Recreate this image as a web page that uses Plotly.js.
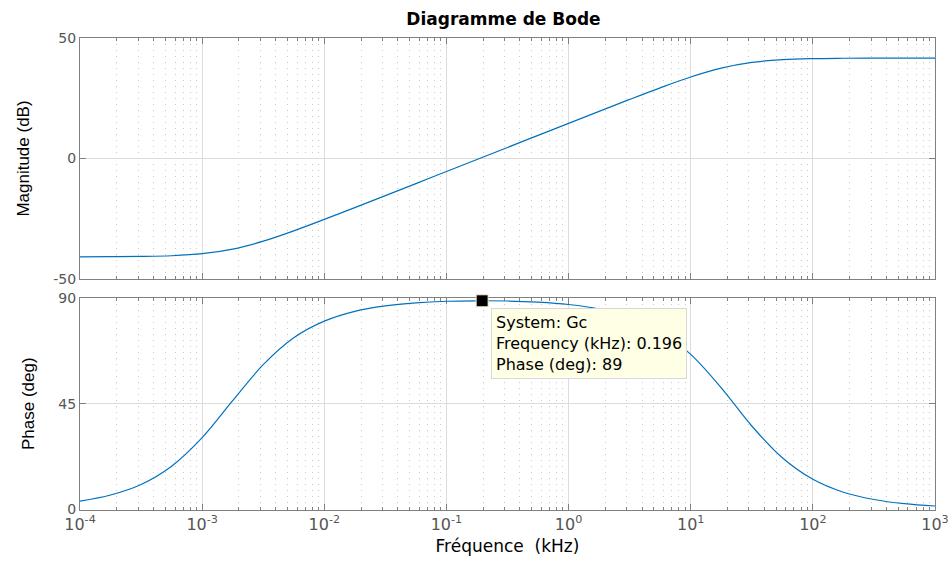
<!DOCTYPE html>
<html>
<head>
<meta charset="utf-8">
<script src="https://cdn.plot.ly/plotly-3.0.1.min.js"></script>
<style>html,body{margin:0;padding:0;background:#fff;}#chart{width:950px;height:563px;}</style>
</head>
<body>
<div id="chart"></div>
<script>
// Frequencies (kHz)
const freqKHz = [1e-4, 1.778e-4, 3.162e-4, 5.623e-4, 1e-3, 1.778e-3, 3.162e-3, 5.623e-3,
  1e-2, 1.778e-2, 3.162e-2, 5.623e-2, 1e-1, 1.778e-1, 3.162e-1, 5.623e-1,
  1, 1.778, 3.162, 5.623, 10, 17.78, 31.62, 56.23, 100, 177.8, 316.2, 562.3, 1000];
// Magnitude (dB)
const magnitudeDB = [-40.8, -40.75, -40.65, -40.35, -39.51, -37.59, -34.31, -30.03,
  -25.28, -20.37, -15.39, -10.40, -5.41, -0.41, 4.59, 9.59,
  14.58, 19.57, 24.51, 29.33, 33.82, 37.50, 39.88, 41.02, 41.46, 41.60, 41.65, 41.67, 41.67];
// Phase (deg)
const phaseDeg = [3.4, 6.0, 10.5, 18.3, 30.5, 46.3, 61.7, 73.2,
  80.3, 84.5, 86.8, 88.1, 88.8, 89.0, 88.9, 88.4,
  87.4, 85.5, 82.0, 76.0, 66.1, 51.8, 35.5, 21.9, 12.7, 7.2, 4.1, 2.3, 1.3];
// Data tip
const tipFreq = [0.196];
const tipPhase = [89];
const tipLines = ["System: Gc", "Frequency (kHz): 0.196", "Phase (deg): 89"];
// Tick labels
const xTickVals = [1e-4, 1e-3, 1e-2, 1e-1, 1, 10, 100, 1000];
const xTickText = ['10<sup>-4</sup>', '10<sup>-3</sup>', '10<sup>-2</sup>', '10<sup>-1</sup>',
  '10<sup>0</sup>', '10<sup>1</sup>', '10<sup>2</sup>', '10<sup>3</sup>'];
const magTicks = [-50, 0, 50];
const phaseTicks = [0, 45, 90];

// minor grid positions (2..9 within each decade)
const minorVals = [];
for (let d = -4; d < 3; d++) for (let k = 2; k <= 9; k++) minorVals.push(k * Math.pow(10, d));

const blue = '#0072BD';
const axisGray = '#808080';
const wideFont = 'DejaVu Sans, Verdana, sans-serif';
const tickFontY = {family: wideFont, size: 14, color: '#555555'};
const tickFontX = {family: wideFont, size: 16, color: '#555555'};

const traces = [
  {x: freqKHz, y: magnitudeDB, xaxis: 'x', yaxis: 'y', mode: 'lines',
   line: {color: blue, width: 1.2, shape: 'spline', smoothing: 1}, hoverinfo: 'skip'},
  {x: freqKHz, y: phaseDeg, xaxis: 'x2', yaxis: 'y2', mode: 'lines',
   line: {color: blue, width: 1.2, shape: 'spline', smoothing: 1}, hoverinfo: 'skip'},
  {x: tipFreq, y: tipPhase, xaxis: 'x2', yaxis: 'y2', mode: 'markers',
   marker: {symbol: 'square', size: 12, color: '#000000', line: {color: '#f2f2d0', width: 1}},
   hoverinfo: 'skip', cliponaxis: false}
];

function xAxis(anchor, showLabels, titleText, layer) {
  const a = {
    type: 'log', range: [-4, 3], anchor: anchor, layer: layer,
    tickmode: 'array', tickvals: xTickVals, ticktext: xTickText,
    showticklabels: showLabels, tickfont: tickFontX,
    ticks: 'inside', ticklen: 6, tickcolor: axisGray,
    showline: true, linecolor: axisGray, linewidth: 1, mirror: 'ticks',
    showgrid: true, gridcolor: '#dcdcdc', gridwidth: 1,
    zeroline: false,
    minor: {tickmode: 'array', tickvals: minorVals, ticks: 'inside', ticklen: 3, tickcolor: axisGray,
            showgrid: true, gridcolor: '#c8c8c8', griddash: '1px,5px', gridwidth: 1}
  };
  if (titleText) a.title = {text: titleText, font: {family: wideFont, size: 17, color: '#000'}, standoff: 6};
  return a;
}
function yAxis(anchor, domain, range, ticks, titleText, layer) {
  return {
    domain: domain, range: range, anchor: anchor, layer: layer,
    tickmode: 'array', tickvals: ticks, ticktext: ticks.map(String), tickfont: tickFontY,
    ticks: 'inside', ticklen: 6, tickcolor: axisGray,
    showline: true, linecolor: axisGray, linewidth: 1, mirror: 'ticks',
    showgrid: true, gridcolor: '#dcdcdc', gridwidth: 1, zeroline: false,
    title: {text: titleText, font: {family: 'Liberation Sans, Arial, sans-serif', size: 17, color: '#000'}, standoff: 19}
  };
}

const layout = {
  width: 950, height: 563,
  margin: {l: 80, r: 15, t: 38, b: 53},
  paper_bgcolor: '#ffffff', plot_bgcolor: '#ffffff',
  showlegend: false,
  title: {text: '<b>Diagramme de Bode</b>', x: 0.53, xanchor: 'center', y: 0.967, yanchor: 'middle',
          font: {family: wideFont, size: 17, color: '#000'}},
  xaxis: xAxis('y', false, null, 'above traces'),
  yaxis: yAxis('x', [0.4894, 1], [-50, 50], magTicks, 'Magnitude (dB)', 'above traces'),
  xaxis2: xAxis('y2', true, 'Fréquence  (kHz)', 'below traces'),
  yaxis2: yAxis('x2', [0, 0.4502], [-0.4, 90.4], phaseTicks, 'Phase (deg)', 'below traces'),
  annotations: [{
    xref: 'x2', yref: 'y2', x: Math.log10(tipFreq[0]), y: tipPhase[0],
    xanchor: 'left', yanchor: 'top', xshift: 9, yshift: -7,
    showarrow: false, align: 'left',
    text: tipLines.join('<br>'),
    font: {family: wideFont, size: 16, color: '#000'},
    bgcolor: '#FFFFE6', bordercolor: '#d8d8d8', borderwidth: 1, borderpad: 4
  }]
};

Plotly.newPlot('chart', traces, layout, {staticPlot: true, displayModeBar: false});
</script>
</body>
</html>
